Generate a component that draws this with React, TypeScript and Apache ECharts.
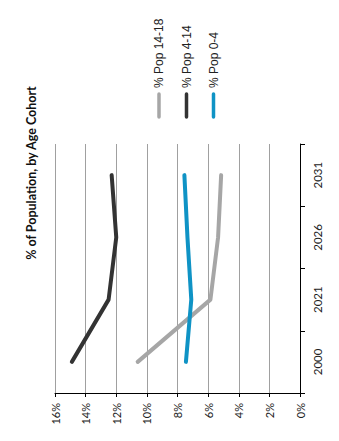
import React, { useEffect, useRef } from "react";
import * as echarts from "echarts";

const categories = ["2000", "2021", "2026", "2031"];
const seriesNames = ["% Pop 14-18", "% Pop 4-14", "% Pop 0-4"];
const pop1418 = [10.6, 5.85, 5.35, 5.15];
const pop414 = [14.9, 12.5, 12.0, 12.3];
const pop04 = [7.45, 7.1, 7.35, 7.55];
const colors = ["#a6a6a6", "#333333", "#0f93c5"];
const title = "% of Population, by Age Cohort";

export default function App() {
  const ref = useRef<HTMLDivElement>(null);
  useEffect(() => {
    if (!ref.current) return;
    const chart = echarts.init(ref.current, null, { renderer: "svg" });
    const values = [pop1418, pop414, pop04];
    const legendX = [159, 186.5, 213.5];
    const graphics: any[] = [
      {
        type: "text",
        x: 31,
        y: 173,
        rotation: Math.PI / 2,
        style: {
          text: title,
          font: "bold 12.5px Lato, 'Liberation Sans', sans-serif",
          fill: "#111",
          align: "center",
          verticalAlign: "middle",
        },
      },
    ];
    seriesNames.forEach((n, i) => {
      graphics.push({
        type: "text",
        x: legendX[i],
        y: 88,
        rotation: Math.PI / 2,
        style: {
          text: n,
          font: "12px 'Liberation Sans', Arial, sans-serif",
          fill: "#222",
          align: "left",
          verticalAlign: "middle",
        },
      });
      graphics.push({
        type: "line",
        shape: { x1: legendX[i], y1: 94, x2: legendX[i], y2: 117 },
        style: { stroke: colors[i], lineWidth: 3.5, lineCap: "round" },
      });
    });
    chart.setOption({
      animation: false,
      backgroundColor: "#fff",
      grid: { left: 55, right: 39, top: 144, bottom: 48, containLabel: false },
      xAxis: {
        type: "value",
        min: 0,
        max: 16,
        interval: 2,
        inverse: true,
        position: "bottom",
        axisLine: { show: true, lineStyle: { color: "#000", width: 1 } },
        axisTick: { show: true, length: 4, lineStyle: { color: "#000" } },
        axisLabel: {
          formatter: "{value}%",
          rotate: 90,
          margin: 10,
          fontSize: 11,
          color: "#222",
          fontFamily: "Lato, 'Liberation Sans', sans-serif",
        },
        splitLine: { show: true, lineStyle: { color: "#a0a0a0", width: 1 } },
      },
      yAxis: {
        type: "category",
        data: categories,
        position: "right",
        boundaryGap: true,
        axisLine: { show: true, lineStyle: { color: "#000", width: 1 } },
        axisTick: { show: true, length: 5, lineStyle: { color: "#000" } },
        axisLabel: {
          rotate: 90,
          margin: 11,
          fontSize: 11.5,
          color: "#222",
          fontFamily: "Lato, 'Liberation Sans', sans-serif",
        },
        splitLine: { show: false },
      },
      graphic: graphics,
      series: seriesNames.map((n, i) => ({
        name: n,
        type: "line",
        showSymbol: false,
        symbol: "none",
        data: values[i].map((v, j) => [v, categories[j]]),
        lineStyle: { color: colors[i], width: 4, cap: "round", join: "round" },
        itemStyle: { color: colors[i] },
        z: 2 + i,
      })),
    });
    return () => chart.dispose();
  }, []);
  return <div ref={ref} style={{ width: 339, height: 441, position: "absolute", left: 0, top: 0 }} />;
}
